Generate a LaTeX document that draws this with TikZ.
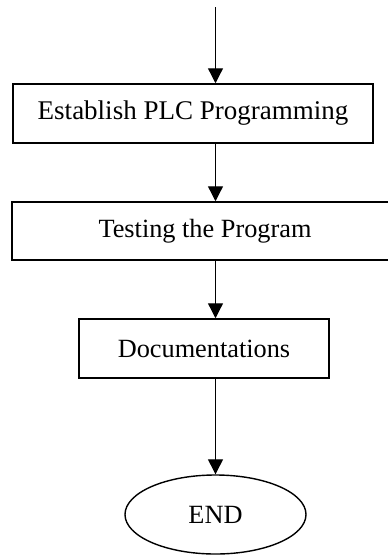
\documentclass[tikz,border=0pt]{standalone}
\usepackage{fontspec}
\setmainfont{Liberation Serif}
\usetikzlibrary{arrows.meta,shapes.geometric}
\begin{document}
\begin{tikzpicture}[x=1pt,y=-1pt,
  every node/.style={font=\fontsize{26.3}{30}\selectfont},
  stepbox/.style={draw,line width=1.5pt,rectangle,inner sep=0pt},
  endnode/.style={draw,line width=1.4pt,ellipse,inner sep=0pt},
  flow/.style={line width=1.3pt,-{Triangle[width=15pt,length=15pt]}}]
\useasboundingbox (0,0) rectangle (388,557);
\coordinate (start) at (215.5,7);
\node[stepbox,minimum width=360pt,minimum height=59pt,font=\fontsize{27}{30}\selectfont] (b1) at (193,113.5) {Establish PLC Programming\hspace{26pt}};
\node[stepbox,minimum width=386pt,minimum height=58pt] (b2) at (205,231) {Testing the Program};
\node[stepbox,minimum width=250pt,minimum height=59pt] (b3) at (204,348.5) {Documentations};
\node[endnode,minimum width=181pt,minimum height=79pt] (e) at (215.5,514.5) {END};
\draw[flow] (start) -- (start |- b1.north);
\draw[flow] (b1.south -| start) -- (b2.north -| start);
\draw[flow] (b2.south -| start) -- (b3.north -| start);
\draw[flow] (b3.south -| start) -- (e.north);
\end{tikzpicture}
\end{document}
